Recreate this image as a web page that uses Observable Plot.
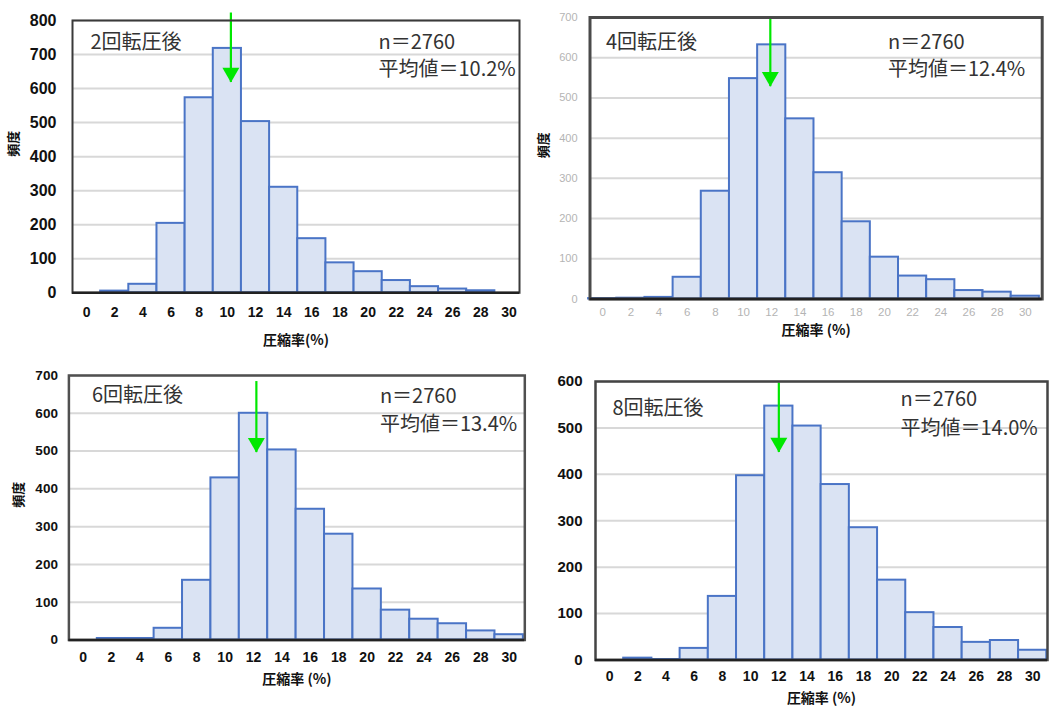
<!DOCTYPE html>
<html><head><meta charset="utf-8">
<script src="https://cdn.jsdelivr.net/npm/d3@7"></script>
<script src="https://cdn.jsdelivr.net/npm/@observablehq/plot@0.6"></script>
<style>
body{margin:0;background:#fff;}
#wrap{position:relative;width:1057px;height:715px;overflow:hidden;background:#fff;}
.panel{position:absolute;}
.panel svg{overflow:visible;background:none;}
</style></head><body><div id="wrap"></div>
<script>
// ---- data ----
const bins = [0, 2, 4, 6, 8, 10, 12, 14, 16, 18, 20, 22, 24, 26, 28, 30];
const binWidth = 2;
const xTicks = [0, 2, 4, 6, 8, 10, 12, 14, 16, 18, 20, 22, 24, 26, 28, 30];
const panelTitles = ["2回転圧後", "4回転圧後", "6回転圧後", "8回転圧後"];
const sampleSizes = [2760, 2760, 2760, 2760];
const meanValues = ["10.2", "12.4", "13.4", "14.0"];
const counts2 = [0, 5, 25, 204, 573, 718, 503, 310, 159, 88, 62, 36, 18, 11, 6, 0];
const counts4 = [1, 2, 4, 54, 268, 548, 632, 448, 314, 192, 104, 57, 48, 21, 17, 7];
const counts6 = [0, 4, 4, 31, 158, 429, 600, 503, 346, 280, 135, 79, 55, 43, 24, 14];
const counts8 = [0, 4, 1, 25, 137, 397, 547, 504, 378, 285, 172, 102, 70, 38, 42, 21];
const yTicks800 = [0, 100, 200, 300, 400, 500, 600, 700, 800];
const yTicks700 = [0, 100, 200, 300, 400, 500, 600, 700];
const yTicks600 = [0, 100, 200, 300, 400, 500, 600];
const arrowX = [10.25, 11.9, 12.2, 12.0];
const arrowTop = [822, 700, 684, 597];
const arrowTip = [618, 528, 496, 447];
const xLabels = ["圧縮率(%)", "圧縮率 (%)", "圧縮率 (%)", "圧縮率 (%)"];
const yLabel = "頻度";

const countsList = [counts2, counts4, counts6, counts8];
const yTicksList = [yTicks800, yTicks700, yTicks700, yTicks600];

// ---- layout / styles ----
const layout = [
  {left: 0, top: 0, width: 530, height: 355, ml: 72, mr: 11, mt: 20, mb: 62.7, xdom: [-1, 30.75],
   tdx: 18, tdy: 21.7, ndx: 306, ndy: 33.5, lh: 1.35, ylx: -59, showY: true, xly: 47.7,
   yfs: 16, xfs: 14, ypad: 16, xpad: 14, tickColor: "#111", tickWeight: "bold", frame: "#3a3a3a", fw: 2},
  {left: 530, top: 0, width: 527, height: 355, ml: 59.5, mr: 15.3, mt: 17, mb: 56.5, xdom: [-0.9, 31.2],
   tdx: 16, tdy: 24.7, ndx: 298, ndy: 36.3, lh: 1.33, ylx: -46, showY: true, xly: 31.5,
   yfs: 11, xfs: 11.5, ypad: 12.5, xpad: 9, tickColor: "#b4b4b4", tickWeight: "normal", frame: "#4a4a4a", fw: 3},
  {left: 0, top: 360, width: 530, height: 355, ml: 68.4, mr: 5.7, mt: 15, mb: 75.5, xdom: [-1, 31.1],
   tdx: 23, tdy: 20, ndx: 311, ndy: 32.5, lh: 1.42, ylx: -50, showY: true, xly: 39.8,
   yfs: 13.5, xfs: 14, ypad: 11, xpad: 12.5, tickColor: "#111", tickWeight: "bold", frame: "#505050", fw: 2.5},
  {left: 530, top: 360, width: 527, height: 355, ml: 65, mr: 10, mt: 21, mb: 55.5, xdom: [-1, 31.05],
   tdx: 17, tdy: 26.7, ndx: 305, ndy: 29.9, lh: 1.42, ylx: -44, showY: false, xly: 38.8,
   yfs: 15, xfs: 14, ypad: 13, xpad: 11, tickColor: "#111", tickWeight: "bold", frame: "#444", fw: 2.5}
];

const annotFont = "'Noto Sans CJK JP', 'Noto Sans', sans-serif";
const tickFont = "'Liberation Sans', 'DejaVu Sans', sans-serif";
const green = "#00e800";

const wrap = document.getElementById("wrap");

layout.forEach((L, i) => {
  const data = bins.map((b, j) => ({bin: b, count: countsList[i][j]})).filter(d => d.count > 0);
  const arrow = [{x: arrowX[i], top: arrowTop[i], tip: arrowTip[i]}];
  const yTicks = yTicksList[i];
  const marks = [
    Plot.gridY(yTicks, {stroke: "#d8d8d8", strokeOpacity: 1, strokeWidth: 2}),
    Plot.text([panelTitles[i]], {frameAnchor: "top-left", dx: L.tdx, dy: L.tdy, textAnchor: "start", lineAnchor: "middle",
      fontSize: 20, fill: "#333", fontFamily: annotFont, ariaLabel: "annot-title"}),
    Plot.text([`n＝${sampleSizes[i]}\n平均値＝${meanValues[i]}%`], {frameAnchor: "top-left", dx: L.ndx, dy: L.ndy,
      textAnchor: "start", lineAnchor: "middle", lineHeight: L.lh, fontSize: 20, fill: "#333", fontFamily: annotFont, ariaLabel: "annot-stats"}),
    Plot.rectY(data, {x1: d => d.bin - binWidth / 2, x2: d => d.bin + binWidth / 2, y: "count",
      fill: "#dae3f3", stroke: "#4a74c6", strokeWidth: 2}),
    Plot.ruleX(arrow, {x: "x", y1: "top", y2: "tip", stroke: green, strokeWidth: 2.2}),
    Plot.dot(arrow, {x: "x", y: "tip", symbol: "triangle", rotate: 180, r: 6.3, fill: green, stroke: "none", dy: -9.8}),
    Plot.frame({stroke: L.frame, strokeWidth: L.fw}),
    Plot.ruleY([0], {stroke: "#222", strokeWidth: 2.5}),
    Plot.axisX(xTicks, {tickSize: 0, tickPadding: L.xpad, label: null, color: L.tickColor}),
    Plot.axisY(yTicks, {tickSize: 0, tickPadding: L.ypad, label: null, color: L.tickColor}),
    Plot.text([xLabels[i]], {frameAnchor: "bottom", dy: L.xly, lineAnchor: "middle", fontSize: 14, fontWeight: "bold",
      fill: "#111", fontFamily: annotFont})
  ];
  if (L.showY) {
    marks.push(Plot.text([yLabel], {frameAnchor: "left", dx: L.ylx, rotate: -90, lineAnchor: "middle", fontSize: 13,
      fontWeight: "bold", fill: "#111", fontFamily: annotFont}));
  }
  const svg = Plot.plot({
    width: L.width, height: L.height,
    marginLeft: L.ml, marginRight: L.mr, marginTop: L.mt, marginBottom: L.mb,
    x: {domain: L.xdom, label: null},
    y: {domain: [0, yTicks[yTicks.length - 1]], label: null},
    style: {background: "none", fontFamily: tickFont, overflow: "visible"},
    marks
  });
  const div = document.createElement("div");
  div.className = "panel";
  div.style.left = L.left + "px";
  div.style.top = L.top + "px";
  div.appendChild(svg);
  wrap.appendChild(div);

  const s = d3.select(svg);
  s.selectAll('g[aria-label="x-axis tick label"]')
    .attr("font-size", L.xfs).attr("font-weight", L.tickWeight).attr("fill", L.tickColor);
  s.selectAll('g[aria-label="y-axis tick label"]')
    .attr("font-size", L.yfs).attr("font-weight", L.tickWeight).attr("fill", L.tickColor);
  s.selectAll('g[aria-label="annot-title"], g[aria-label="annot-stats"]').attr("letter-spacing", "1.3px");
  // white label boxes behind annotation text (they hide the grid lines as in the source)
  s.selectAll('g[aria-label="annot-title"] text, g[aria-label="annot-stats"] text').each(function () {
    const bb = this.getBBox();
    const isTitle = this.parentNode.getAttribute("aria-label") === "annot-title";
    const padL = isTitle ? 20 : 16, padR = 12, padT = 6, padB = 10;
    const tr = this.getAttribute("transform");
    const rect = document.createElementNS("http://www.w3.org/2000/svg", "rect");
    rect.setAttribute("x", bb.x - padL);
    rect.setAttribute("y", bb.y - padT);
    rect.setAttribute("width", bb.width + padL + padR);
    rect.setAttribute("height", bb.height + padT + padB);
    rect.setAttribute("fill", "#fff");
    if (tr) rect.setAttribute("transform", tr);
    this.parentNode.insertBefore(rect, this);
  });
});
</script></body></html>
